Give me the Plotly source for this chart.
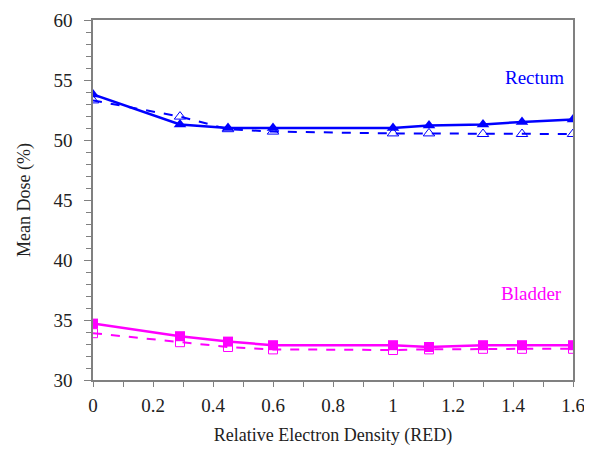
import plotly.graph_objects as go

red = [0, 0.29, 0.45, 0.6, 1.0, 1.12, 1.3, 1.43, 1.6]
rectum_solid = [53.8, 51.3, 51.0, 51.0, 51.0, 51.2, 51.3, 51.5, 51.7]
rectum_dashed = [53.3, 51.95, 50.9, 50.7, 50.55, 50.55, 50.5, 50.5, 50.5]
bladder_solid = [34.7, 33.65, 33.2, 32.9, 32.9, 32.75, 32.9, 32.9, 32.9]
bladder_dashed = [33.9, 33.15, 32.75, 32.55, 32.5, 32.55, 32.6, 32.6, 32.6]

BLUE = "#0000FF"
MAG = "#FF00FF"
FONT = "Liberation Serif, Times New Roman, serif"

fig = go.Figure()
fig.add_trace(go.Scatter(x=red, y=rectum_dashed, mode="lines+markers",
                         line=dict(color=BLUE, width=2, dash="dash"),
                         marker=dict(symbol="triangle-up-open", size=10, color=BLUE, line=dict(width=1))))
fig.add_trace(go.Scatter(x=red, y=rectum_solid, mode="lines+markers",
                         line=dict(color=BLUE, width=2.5),
                         marker=dict(symbol="triangle-up", size=11, color=BLUE)))
fig.add_trace(go.Scatter(x=red, y=bladder_dashed, mode="lines+markers",
                         line=dict(color=MAG, width=2, dash="dash"),
                         marker=dict(symbol="square-open", size=9, color=MAG, line=dict(width=1))))
fig.add_trace(go.Scatter(x=red, y=bladder_solid, mode="lines+markers",
                         line=dict(color=MAG, width=2.5),
                         marker=dict(symbol="square", size=10, color=MAG)))

fig.add_annotation(x=1.47, y=55.2, text="Rectum", showarrow=False,
                   font=dict(family=FONT, size=19, color=BLUE))
fig.add_annotation(x=1.46, y=37.2, text="Bladder", showarrow=False,
                   font=dict(family=FONT, size=19, color=MAG))

fig.update_layout(
    width=592, height=466,
    margin=dict(l=85, r=27, t=12, b=94),
    paper_bgcolor="white", plot_bgcolor="white",
    showlegend=False,
    font=dict(family=FONT, size=19, color="#222"),
    xaxis=dict(range=[0, 1.6], tickvals=[0, 0.2, 0.4, 0.6, 0.8, 1, 1.2, 1.4, 1.6],
               ticktext=["0", "0.2", "0.4", "0.6", "0.8", "1", "1.2", "1.4", "1.6"],
               automargin=False,
               showgrid=False, zeroline=False, showline=True, linecolor="#808080", linewidth=1.5,
               mirror=True, ticks="outside", ticklen=5, tickcolor="#808080",
               ticklabelstandoff=2, ticklabeloverflow="allow",
               minor=dict(dtick=0.1, ticks="outside", ticklen=5, tickcolor="#808080"),
               title=dict(text="Relative Electron Density (RED)", font=dict(family=FONT, size=18), standoff=14)),
    yaxis=dict(range=[30, 60], dtick=5, showgrid=False, zeroline=False, showline=True,
               automargin=False,
               linecolor="#808080", linewidth=1.5, mirror=True, ticks="outside", ticklen=7,
               tickcolor="#808080", ticklabelstandoff=8, ticklabeloverflow="allow",
               minor=dict(dtick=1, ticks="outside", ticklen=5, tickcolor="#808080"),
               title=dict(text="Mean Dose (%)", font=dict(family=FONT, size=18), standoff=18)),
)

fig.write_html("out.html")
